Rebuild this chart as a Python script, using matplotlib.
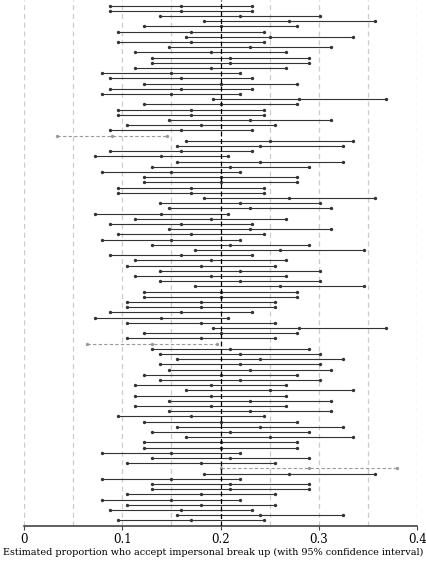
import numpy as np
import matplotlib
matplotlib.use("Agg")
import matplotlib.pyplot as plt

# point estimates (n = 100 per sample), top to bottom
est = [0.16, 0.16, 0.22, 0.27, 0.20, 0.17, 0.25, 0.17, 0.23, 0.19,
       0.21, 0.21, 0.19, 0.15, 0.16, 0.20, 0.16, 0.15, 0.28, 0.20,
       0.17, 0.17, 0.23, 0.18, 0.16, 0.09, 0.25, 0.24, 0.16, 0.14,
       0.24, 0.21, 0.15, 0.20, 0.20, 0.17, 0.17, 0.27, 0.22, 0.23,
       0.14, 0.19, 0.16, 0.23, 0.17, 0.15, 0.21, 0.26, 0.16, 0.19,
       0.18, 0.22, 0.19, 0.22, 0.26, 0.20, 0.20, 0.18, 0.18, 0.16,
       0.14, 0.18, 0.28, 0.20, 0.18, 0.13, 0.21, 0.22, 0.24, 0.22,
       0.23, 0.20, 0.22, 0.19, 0.25, 0.19, 0.23, 0.19, 0.23, 0.17,
       0.20, 0.24, 0.21, 0.25, 0.20, 0.20, 0.15, 0.21, 0.18, 0.29,
       0.27, 0.15, 0.21, 0.21, 0.18, 0.15, 0.18, 0.16, 0.24, 0.17]

lower = [0.088, 0.088, 0.139, 0.183, 0.122, 0.096, 0.165, 0.096, 0.148, 0.113,
         0.130, 0.130, 0.113, 0.080, 0.088, 0.122, 0.088, 0.080, 0.192, 0.122,
         0.096, 0.096, 0.148, 0.105, 0.088, 0.034, 0.165, 0.156, 0.088, 0.072,
         0.156, 0.130, 0.080, 0.122, 0.122, 0.096, 0.096, 0.183, 0.139, 0.148,
         0.072, 0.113, 0.088, 0.148, 0.096, 0.080, 0.130, 0.174, 0.088, 0.113,
         0.105, 0.139, 0.113, 0.139, 0.174, 0.122, 0.122, 0.105, 0.105, 0.088,
         0.072, 0.105, 0.192, 0.122, 0.105, 0.064, 0.130, 0.139, 0.156, 0.139,
         0.148, 0.122, 0.139, 0.113, 0.165, 0.113, 0.148, 0.113, 0.148, 0.096,
         0.122, 0.156, 0.130, 0.165, 0.122, 0.122, 0.080, 0.130, 0.105, 0.201,
         0.183, 0.080, 0.130, 0.130, 0.105, 0.080, 0.105, 0.088, 0.156, 0.096]

upper = [0.232, 0.232, 0.301, 0.357, 0.278, 0.244, 0.335, 0.244, 0.312, 0.267,
         0.290, 0.290, 0.267, 0.220, 0.232, 0.278, 0.232, 0.220, 0.368, 0.278,
         0.244, 0.244, 0.312, 0.255, 0.232, 0.146, 0.335, 0.324, 0.232, 0.208,
         0.324, 0.290, 0.220, 0.278, 0.278, 0.244, 0.244, 0.357, 0.301, 0.312,
         0.208, 0.267, 0.232, 0.312, 0.244, 0.220, 0.290, 0.346, 0.232, 0.267,
         0.255, 0.301, 0.267, 0.301, 0.346, 0.278, 0.278, 0.255, 0.255, 0.232,
         0.208, 0.255, 0.368, 0.278, 0.255, 0.196, 0.290, 0.301, 0.324, 0.301,
         0.312, 0.278, 0.301, 0.267, 0.335, 0.267, 0.312, 0.267, 0.312, 0.244,
         0.278, 0.324, 0.290, 0.335, 0.278, 0.278, 0.220, 0.290, 0.255, 0.379,
         0.357, 0.220, 0.290, 0.290, 0.255, 0.220, 0.255, 0.232, 0.324, 0.244]

true_p = 0.2
xticks = [0, 0.1, 0.2, 0.3, 0.4]
xticklabels = ["0", "0.1", "0.2", "0.3", "0.4"]
xlabel = "Estimated proportion who accept impersonal break up (with 95% confidence interval)"

plt.rcParams['font.family'] = ['DejaVu Serif']

fig = plt.figure(figsize=(4.27, 5.65), dpi=100)
ax = fig.add_axes([0.0555, 0.0696, 0.9218, 0.9304])

# light dashed grid every 0.05
for g in np.arange(0, 0.401, 0.05):
    if abs(g - true_p) > 1e-9:
        ax.axvline(g, color='#cccccc', lw=0.9, ls=(0, (4, 3)), zorder=0)

for i in range(len(est)):
    miss = lower[i] > true_p or upper[i] < true_p
    if miss:
        col, ls = '#999999', (0, (3, 2))
    else:
        col, ls = '#333333', '-'
    ax.plot([lower[i], upper[i]], [i, i], color=col, ls=ls, lw=0.8, zorder=2)
    ax.plot([lower[i], est[i], upper[i]], [i, i, i], ls='none', marker='o',
            ms=1.4, mfc=col, mec=col, zorder=3)

ax.axvline(true_p, color='black', lw=0.9, ls=(0, (4, 2)), zorder=4)

ax.set_xlim(0, 0.4)
ax.set_ylim(100.0, -1.09)
ax.set_yticks([])
ax.set_xticks(xticks)
ax.set_xticklabels(xticklabels, fontsize=8.5)
ax.tick_params(axis='x', length=3, width=0.8, color='#444444', pad=2)
for s in ['top', 'left', 'right']:
    ax.spines[s].set_visible(False)
ax.spines['bottom'].set_color('#444444')
ax.spines['bottom'].set_linewidth(1.2)

# label centred on the figure, as in the source
fig.text(0.5, 0.023, xlabel, fontsize=6.95, ha='center', va='center')

fig.savefig('out.png', dpi=100)
